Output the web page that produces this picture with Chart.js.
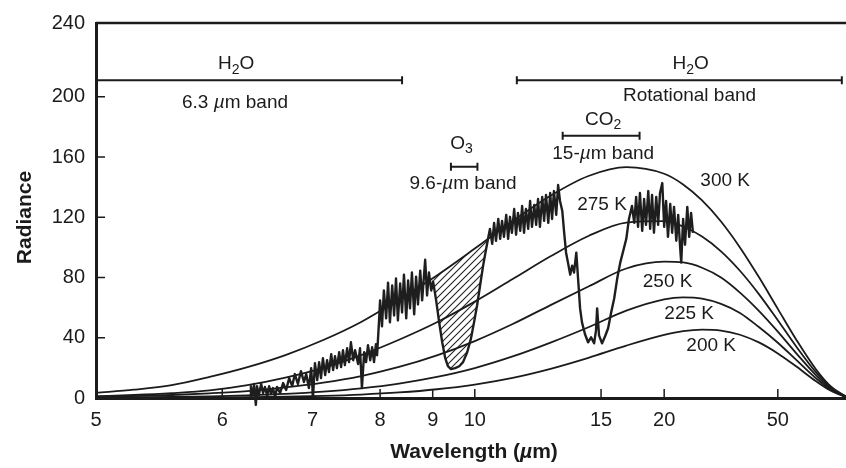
<!DOCTYPE html>
<html>
<head>
<meta charset="utf-8">
<script src="https://cdn.jsdelivr.net/npm/chart.js@4.4.1/dist/chart.umd.min.js"></script>
<style>
  html, body { margin: 0; padding: 0; background: #fff; }
</style>
</head>
<body>
<canvas id="chart" width="846" height="468"></canvas>
<script>
// x axis runs linear in wavenumber (cm-1), labels are wavelengths in um
const wavenumbers = [2000, 1900, 1800, 1700, 1600, 1500, 1400, 1300, 1200, 1100, 1000, 900, 800, 700, 600, 500, 450, 400, 350, 300, 250, 200, 150, 100, 60, 20];
const radiance300 = [3.5, 5.5, 8.5, 14, 20.5, 28.5, 38.5, 50.5, 65.4, 81.4, 99.2, 117.5, 134.3, 147.4, 153.3, 148.9, 141.8, 131.2, 117.2, 100.0, 80.3, 59.2, 38.2, 19.3, 7.7, 1.0];
const radiance275 = [1.2, 2.0, 3.2, 5.0, 8.5, 13.5, 20.0, 28.5, 38.7, 50.3, 64.0, 79.0, 94.1, 107.6, 116.5, 117.4, 113.9, 107.2, 97.4, 84.5, 69.0, 51.6, 33.7, 17.3, 7.0, 0.9];
const radiance250 = [0.8, 1.3, 2.0, 3.1, 4.6, 7.0, 10.2, 14.6, 20.6, 28.3, 37.8, 49.1, 61.7, 74.0, 86.0, 90.5, 90.0, 86.5, 80.0, 70.0, 57.9, 44.1, 29.3, 15.3, 6.2, 0.8];
const radiance225 = [0.27, 0.43, 0.70, 1.11, 1.76, 2.74, 4.23, 6.42, 9.57, 14.0, 19.9, 27.6, 36.8, 47.0, 58.0, 65.5, 66.8, 66.0, 62.5, 56.5, 47.1, 36.7, 25.0, 13.3, 5.5, 0.7];
const radiance200 = [0.05, 0.09, 0.17, 0.29, 0.49, 0.83, 1.38, 2.27, 3.67, 5.80, 8.95, 13.4, 19.4, 26.7, 34.8, 41.9, 44.4, 45.4, 44.8, 42.0, 36.9, 29.6, 20.7, 11.3, 4.8, 0.6];
const curveLabels = ['300 K', '275 K', '250 K', '225 K', '200 K'];

// observed spectrum
const spectrumNu = [1593,1591,1585,1583,1578,1575,1570,1564,1559,1554,1548,1543,1538,1533,1527,1522,1514,1506,1498,1490,
  1482,1475,1467,1459,1451,1445,1438,1432,1427,1422,1416,1411,1406,1401,1395,1390,1385,1379,1374,1369,
  1364,1358,1353,1348,1343,1337,1332,1327,1321,1316,1308,1303,1298,1292,1287,1282,1276,1271,1266,1261,
  1258,1253,1250,1245,1240,1234,1229,1224,1218,1213,1208,1203,1197,1192,1187,1181,1176,1171,1166,1160,
  1155,1150,1144,1139,1131,1126,1121,1115,1110,1102,1094,1086,1078,1071,1063,1052,1041,1031,1020,1010,
  1002,994,986,978,970,965,960,954,949,944,938,933,928,923,917,912,907,902,896,891,
  886,880,875,870,865,859,854,849,843,838,833,828,822,817,812,806,801,796,791,785,
  780,775,769,764,759,754,748,743,738,732,727,722,717,709,701,693,685,680,677,672,
  664,656,648,640,632,624,616,608,600,593,585,579,574,569,564,558,553,548,542,537,
  532,527,521,516,511,505,500,495,490,484,479,474,468,463,458,455,450,445,439,434,429,424];
const spectrumRad = [0.7,7.9,2.6,9.3,-4.6,7.9,2.0,9.3,3.3,7.3,1.3,7.9,2.6,6.6,0.7,7.3,3.3,9.9,5.3,13.2,
  7.9,15.9,9.3,17.8,10.6,15.9,6.6,19.8,0.7,23.1,11.9,23.8,13.2,26.4,15.2,25.1,17.2,29.1,18.5,27.8,
  19.8,30.4,20.5,31.7,21.8,33.0,23.8,37.0,25.1,31.7,22.5,33.0,6.6,30.4,23.8,35.0,25.1,33.7,23.8,35.7,
  28.4,50.2,64.8,47.6,71.4,52.9,76.6,50.2,74.7,54.8,79.3,51.5,76.0,56.8,81.9,52.9,78.0,59.5,83.3,55.5,
  80.6,62.1,84.6,64.8,91.8,68.1,83.3,71.4,77.3,64.8,50.2,37.0,26.4,21.1,19.2,19.8,21.1,23.8,30.4,39.6,
  50.2,61.4,74.7,87.9,99.1,105.7,112.3,102.4,116.3,104.4,118.9,105.7,117.6,107.0,121.6,105.7,120.3,109.7,125.5,108.4,
  122.9,111.0,127.5,109.7,125.5,112.3,130.8,113.6,128.2,115.0,132.1,113.6,133.5,117.6,134.8,116.3,136.1,118.9,137.4,121.6,
  141.4,130.8,124.2,109.7,96.5,89.9,81.9,87.9,83.3,96.5,78.0,59.5,50.2,42.3,37.0,40.3,36.3,44.9,59.5,41.6,
  36.3,41.0,46.3,56.8,66.1,79.3,89.9,97.8,105.7,118.9,127.5,116.3,133.5,113.6,136.1,111.0,132.1,115.0,137.4,112.3,
  134.8,109.7,133.5,115.0,136.1,142.7,113.6,130.8,107.0,128.8,109.7,126.9,104.4,121.6,100.4,89.9,118.9,101.8,126.9,107.0,122.9,109.7];
// ozone band, hatched between spectrum and the 300 K curve
const o3Range = [965, 1110];

const tickWavelengths = [5, 6, 7, 8, 9, 10, 15, 20, 50];
const yTickValues = [0, 40, 80, 120, 160, 200, 249];
const yTickLabels = ['0', '40', '80', '120', '160', '200', '240'];

// absorption band brackets (wavenumber span, radiance level)
const bandFrom = [2000, 889, 1063, 768];
const bandTo = [1192, 31, 993, 565];
const bandLevel = [211, 211, 153.5, 174.2];

// text labels: '_' = subscript next char
const annoText = ['H_2O', '6.3 µm band', 'H_2O', 'Rotational band', 'CO_2', '15-µm band', 'O_3', '9.6-µm band',
  '300 K', '275 K', '250 K', '225 K', '200 K'];
const annoNu = [1630, 1633, 430, 433, 661, 661, 1035, 1031, 339, 664, 491, 434, 376];
const annoRad = [222, 196.2, 222, 200.9, 185, 162.5, 169.1, 142.1, 144, 128.2, 77.3, 56.2, 34.4];

const FONT = "'Liberation Sans', Arial, Helvetica, sans-serif";
const INK = '#1b1b1b';
Chart.defaults.font.family = FONT;

function hatchPattern() {
  const c = document.createElement('canvas');
  c.width = 7; c.height = 7;
  const g = c.getContext('2d');
  g.strokeStyle = '#222';
  g.lineWidth = 1.1;
  g.beginPath();
  g.moveTo(-1, 8); g.lineTo(8, -1);
  g.moveTo(-1, 1); g.lineTo(1, -1);
  g.moveTo(6, 8); g.lineTo(8, 6);
  g.stroke();
  return g.createPattern(c, 'repeat');
}

function drawRich(ctx, text, cx, cy, size, bold) {
  const parts = [];
  for (let i = 0; i < text.length; i++) {
    const ch = text[i];
    if (ch === '_') { parts.push({ t: text[++i], sub: true }); continue; }
    if (ch === 'µ') { parts.push({ t: ch, it: true }); continue; }
    const last = parts[parts.length - 1];
    if (last && !last.sub && !last.it) last.t += ch; else parts.push({ t: ch });
  }
  const weight = bold ? 'bold ' : '';
  const fontOf = p => (p.it ? 'italic ' : '') + weight + (p.sub ? Math.round(size * 0.72) : size) + 'px ' + FONT;
  let w = 0;
  parts.forEach(p => { ctx.font = fontOf(p); p.w = ctx.measureText(p.t).width; w += p.w; });
  let x = cx - w / 2;
  ctx.textAlign = 'left';
  ctx.textBaseline = 'middle';
  parts.forEach(p => {
    ctx.font = fontOf(p);
    ctx.fillText(p.t, x, cy + (p.sub ? size * 0.32 : 0));
    x += p.w;
  });
}

const decorations = {
  id: 'decorations',
  afterDatasetsDraw(chart) {
    const { ctx, chartArea: a, scales: { x, y } } = chart;
    ctx.save();
    ctx.strokeStyle = INK;
    ctx.fillStyle = INK;
    // top frame
    ctx.lineWidth = 2.5;
    ctx.beginPath(); ctx.moveTo(a.left, a.top); ctx.lineTo(a.right, a.top); ctx.stroke();
    // inward tick marks
    ctx.lineWidth = 1.5;
    ctx.beginPath();
    tickWavelengths.slice(1).forEach(w => {
      const px = x.getPixelForValue(10000 / w);
      ctx.moveTo(px, a.bottom); ctx.lineTo(px, a.bottom - 9);
    });
    yTickValues.slice(1, -1).forEach(v => {
      const py = y.getPixelForValue(v);
      ctx.moveTo(a.left, py); ctx.lineTo(a.left + 9, py);
    });
    ctx.stroke();
    // band brackets
    ctx.lineWidth = 2;
    bandFrom.forEach((f, i) => {
      const x0 = x.getPixelForValue(f), x1 = x.getPixelForValue(bandTo[i]);
      const py = y.getPixelForValue(bandLevel[i]);
      ctx.beginPath();
      ctx.moveTo(x0, py); ctx.lineTo(x1, py);
      ctx.moveTo(x0, py - 4); ctx.lineTo(x0, py + 4);
      ctx.moveTo(x1, py - 4); ctx.lineTo(x1, py + 4);
      ctx.stroke();
    });
    annoText.forEach((t, i) => drawRich(ctx, t, x.getPixelForValue(annoNu[i]), y.getPixelForValue(annoRad[i]), 19, false));
    // axis titles
    drawRich(ctx, 'Wavelength (µm)', (a.left + a.right) / 2 + 3, a.bottom + 54, 21, true);
    ctx.translate(25, (a.top + a.bottom) / 2 + 7);
    ctx.rotate(-Math.PI / 2);
    drawRich(ctx, 'Radiance', 0, 0, 21, true);
    ctx.restore();
  }
};

const curveData = [radiance300, radiance275, radiance250, radiance225, radiance200];
const datasets = [{
  label: 'Observed spectrum',
  data: spectrumNu.map((nu, j) => ({ x: nu, y: spectrumRad[j] })),
  borderColor: '#1e1e1e',
  borderWidth: 2.4,
  borderJoinStyle: 'round',
  pointRadius: 0,
  tension: 0,
  clip: 10
}];
curveData.forEach((vals, i) => datasets.push({
  label: curveLabels[i],
  data: wavenumbers.map((nu, j) => ({ x: nu, y: vals[j] })),
  borderColor: INK,
  borderWidth: 1.8,
  pointRadius: 0,
  cubicInterpolationMode: 'monotone',
  fill: false
}));
datasets.push({
  label: 'O3 absorption',
  data: spectrumNu.map((nu, j) => ({ x: nu, y: spectrumRad[j] })).filter(p => p.x >= o3Range[0] && p.x <= o3Range[1]),
  borderColor: 'rgba(0,0,0,0)',
  borderWidth: 0,
  pointRadius: 0,
  fill: { target: 1 },
  backgroundColor: hatchPattern()
});

new Chart(document.getElementById('chart'), {
  type: 'line',
  data: { datasets },
  options: {
    responsive: false,
    animation: false,
    events: [],
    layout: { padding: { top: 21, right: 0, bottom: 0, left: 0 } },
    plugins: { legend: { display: false }, tooltip: { enabled: false } },
    scales: {
      x: {
        type: 'linear',
        min: 20,
        max: 2000,
        reverse: true,
        afterBuildTicks: axis => { axis.ticks = tickWavelengths.map(w => ({ value: 10000 / w })); },
        afterFit: axis => { axis.height = 70; },
        grid: { display: false, drawTicks: false },
        border: { display: true, width: 3, color: INK },
        ticks: {
          autoSkip: false, maxRotation: 0, minRotation: 0, padding: 10,
          color: INK, font: { size: 20 },
          callback: (v, i) => String(tickWavelengths[i])
        }
      },
      y: {
        min: 0,
        max: 249,
        afterBuildTicks: axis => { axis.ticks = yTickValues.map(v => ({ value: v })); },
        afterFit: axis => { axis.width = 96; },
        grid: { display: false, drawTicks: false },
        border: { display: true, width: 3, color: INK },
        ticks: {
          padding: 11, color: INK, font: { size: 20 },
          callback: (v, i) => yTickLabels[i]
        }
      }
    }
  },
  plugins: [decorations]
});
</script>
</body>
</html>
